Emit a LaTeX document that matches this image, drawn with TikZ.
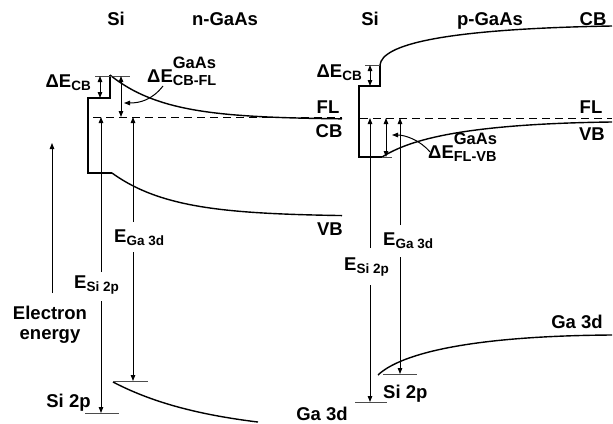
\documentclass[tikz,border=0pt]{standalone}
\usepackage{fontspec}
\setmainfont{Liberation Sans}
\usetikzlibrary{arrows.meta}
\newcommand\lsb[1]{\raisebox{-3pt}{\fontsize{13.5}{13.5}\selectfont #1}}
\newcommand\lsupsub[2]{\makebox[0pt][l]{\raisebox{14pt}{\fontsize{16.5}{16.5}\selectfont #1}}\raisebox{-3pt}{\fontsize{14.5}{14.5}\selectfont #2}}
\begin{document}
\begin{tikzpicture}[x=1pt,y=-1pt,
  band/.style={line width=1.4pt},
  tickln/.style={line width=0.6pt, black!70},
  lvl/.style={line width=0.9pt, -{Triangle[length=6pt,width=4.5pt]}},
  dbl/.style={line width=0.9pt, {Triangle[length=6pt,width=4.5pt]}-{Triangle[length=6pt,width=4.5pt]}},
  ptr/.style={line width=1pt, -{Triangle[length=6pt,width=4.5pt]}},
  fl/.style={line width=1pt, dash pattern=on 8pt off 5pt},
  lbl/.style={font=\fontsize{18.5}{18.5}\selectfont\bfseries, inner sep=0pt}]
\useasboundingbox (0,0) rectangle (613,423);

% ---------- left panel (n-GaAs) ----------
\draw[band] (110,75) -- (110,98) -- (88,98) -- (88,173) -- (112,173);
\draw[band] plot[domain=110:342, samples=80] (\x,{119.5-44.5*exp(-(\x-110)/55)});
\draw[band] plot[domain=112:342, samples=80] (\x,{216.5-43.5*exp(-(\x-112)/60)});
\draw[band] plot[domain=113:258, samples=60] (\x,{434.3-52.3*exp(-(\x-113)/100)});
\draw[fl] (93,117) -- (342,117);

\coordinate (lcbT) at (100,76);  \coordinate (lcbB) at (100,98);
\coordinate (lcfT) at (121,76);  \coordinate (lcfB) at (121,117);
\coordinate (lsiF) at (101,117); \coordinate (lsiB) at (101,413);
\coordinate (lgaF) at (133,117); \coordinate (lgaB) at (133,381);
\coordinate (eeB) at (52,293);   \coordinate (eeT) at (52,143);

\draw[tickln] (95,76) -- (112,76);
\draw[tickln] (113,76) -- (130,76);
\draw[tickln] (113,381) -- (148,381);
\draw[tickln] (85,413) -- (119,413);

\node[lbl, anchor=base] (siL) at (116,25) {Si};
\node[lbl, anchor=base] (ngaas) at (225,25) {n-GaAs};
\node[lbl, anchor=base east] (dcbL) at (91,87) {ΔE\lsb{CB}};
\node[lbl, anchor=base west] (dcfL) at (147,82) {ΔE\lsupsub{GaAs}{CB-FL}};
\node[lbl, anchor=base] (flL) at (328,113) {FL};
\node[lbl, anchor=base] (cbL) at (329,137) {CB};
\node[lbl, anchor=base] (vbL) at (330,235) {VB};
\node[lbl, anchor=base west, inner sep=1pt] (egaL) at (113,242) {E\lsb{Ga 3d}};
\node[lbl, anchor=base west, inner sep=1pt] (esiL) at (73,288) {E\lsb{Si 2p}};
\node[lbl, anchor=base] (elecL) at (50,319) {Electron};
\node[lbl, anchor=base] (enerL) at (50,339) {energy};
\node[lbl, anchor=base] (si2pL) at (68.5,407) {Si 2p};
\node[lbl, anchor=base] (ga3dL) at (322,420) {Ga 3d};

\draw[dbl] (lcbT) -- (lcbB);
\draw[dbl] (lcfT) -- (lcfB);
\draw[ptr] (163,86) .. controls (152,100) and (140,103) .. (124,103);
\draw[lvl] (esiL.north -| lsiF) ++(0,-2) -- (lsiF);
\draw[lvl] (esiL.south -| lsiF) ++(0,6) -- (lsiB);
\draw[lvl] (egaL.north -| lgaF) ++(0,-6) -- (lgaF);
\draw[lvl] (egaL.south -| lgaF) ++(0,6) -- (lgaB);
\draw[lvl] (eeB) -- (eeT);

% ---------- right panel (p-GaAs) ----------
\draw[band] (380,65) -- (380,86) -- (359,86) -- (359,157) -- (382,157);
\draw[band] (380,65) .. controls (382,45) and (440,29) .. (612,26);
\draw[band] (382,157) .. controls (405,143) and (450,124) .. (612,122);
\draw[band] (378,375) .. controls (398,356) and (460,336) .. (612,335);
\draw[fl] (360,118) -- (612,118);

\coordinate (rcbT) at (370,65);  \coordinate (rcbB) at (370,86);
\coordinate (rfvT) at (386,118); \coordinate (rfvB) at (386,157);
\coordinate (rsiF) at (370,118); \coordinate (rsiB) at (370,402);
\coordinate (rgaF) at (400,118); \coordinate (rgaB) at (400,374);

\draw[tickln] (365,65) -- (380,65);
\draw[tickln] (382,157) -- (392,157);
\draw[tickln] (383,374) -- (417,374);
\draw[tickln] (355,402) -- (387,402);

\node[lbl, anchor=base] (siR) at (370,25) {Si};
\node[lbl, anchor=base] (pgaas) at (490,25) {p-GaAs};
\node[lbl, anchor=base] (cbR) at (593,25) {CB};
\node[lbl, anchor=base east] (dcbR) at (362,77) {ΔE\lsb{CB}};
\node[lbl, anchor=base] (flR) at (591,113) {FL};
\node[lbl, anchor=base] (vbR) at (592,140) {VB};
\node[lbl, anchor=base west] (dfvR) at (428,158) {ΔE\lsupsub{GaAs}{FL-VB}};
\node[lbl, anchor=base west, inner sep=1pt] (egaR) at (382,245) {E\lsb{Ga 3d}};
\node[lbl, anchor=base west, inner sep=1pt] (esiR) at (343,270) {E\lsb{Si 2p}};
\node[lbl, anchor=base west] (si2pR) at (383,398) {Si 2p};
\node[lbl, anchor=base] (ga3dR) at (577,328) {Ga 3d};

\draw[dbl] (rcbT) -- (rcbB);
\draw[dbl] (rfvT) -- (rfvB);
\draw[ptr] (430,152) .. controls (420,140) and (405,135) .. (392,135);
\draw[lvl] (esiR.north -| rsiF) ++(0,-8) -- (rsiF);
\draw[lvl] (esiR.south -| rsiF) ++(0,8) -- (rsiB);
\draw[lvl] (egaR.north -| rgaF) ++(0,-6) -- (rgaF);
\draw[lvl] (egaR.south -| rgaF) ++(0,8) -- (rgaB);
\end{tikzpicture}
\end{document}
